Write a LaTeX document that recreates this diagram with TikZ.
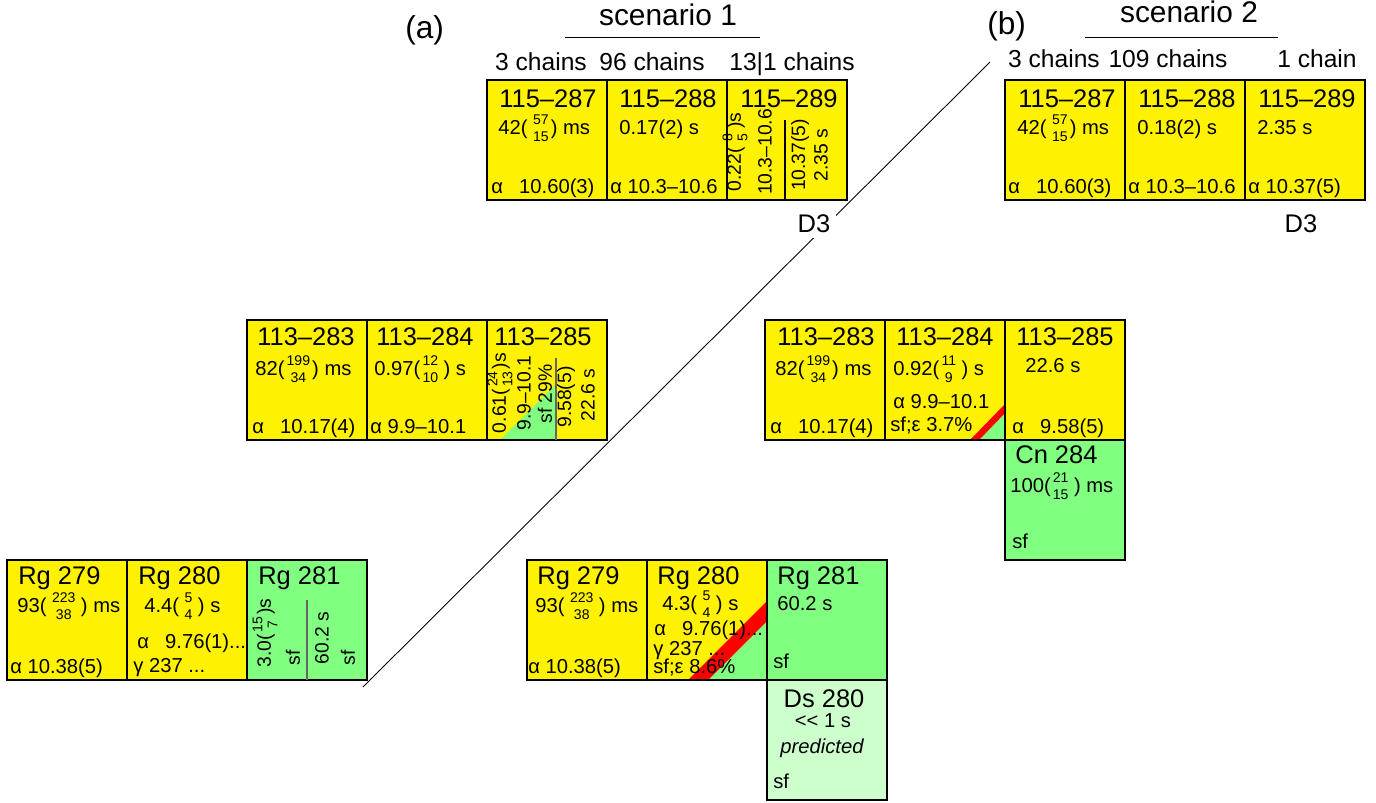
\documentclass[tikz,border=0pt]{standalone}
\usepackage{amsmath}
\usepackage{fontspec}
\setmainfont{Liberation Sans}
\usepackage{tikz}

\definecolor{sfgreen}{RGB}{128,255,128}
\definecolor{predgreen}{RGB}{204,255,204}
\newcommand{\ud}[2]{$\genfrac{}{}{0pt}{1}{\mbox{\fontsize{8}{9}\selectfont #1}}{\mbox{\fontsize{8}{9}\selectfont #2}}$}

\tikzset{
  cellbox/.style={draw=black, line width=0.8pt},
  splitline/.style={draw=black!60, line width=0.6pt},
  nuc/.style={anchor=base west, inner sep=0pt, font=\fontsize{14.5}{17}\selectfont},
  hl/.style={anchor=base west, inner sep=0pt, font=\fontsize{11.5}{13}\selectfont},
  vtext/.style={rotate=90, inner sep=0pt, font=\fontsize{11}{13}\selectfont},
  chains/.style={anchor=base, inner sep=0pt, font=\fontsize{14}{16}\selectfont},
}

\begin{document}
\begin{tikzpicture}[x=0.02cm, y=-0.02cm]
    \useasboundingbox (0,0) rectangle (1376,802);

    % separating line between the two scenarios
    \draw[line width=0.5pt] (363,687) -- (990,62);

    % headings
    \node[anchor=base west, inner sep=0pt, font=\fontsize{18}{20}\selectfont] (taga) at (405,38) {(a)};
    \node[anchor=base, inner sep=0pt, font=\fontsize{17}{19}\selectfont] (scen1) at (668,25) {scenario 1};
    \draw[line width=0.5pt] (565,37) -- (760,37);
    \node[chains] (ch287a) at (541,70) {3 chains};
    \node[chains] (ch288a) at (652,70) {96 chains};
    \node[chains] (ch289a) at (792,70) {13|1 chains};

    \node[anchor=base west, inner sep=0pt, font=\fontsize{18}{20}\selectfont] (tagb) at (987,34) {(b)};
    \node[anchor=base, inner sep=0pt, font=\fontsize{17}{19}\selectfont] (scen2) at (1189,22) {scenario 2};
    \draw[line width=0.5pt] (1085,37) -- (1278,37);
    \node[chains] (ch287b) at (1054,67) {3 chains};
    \node[chains] (ch288b) at (1168,67) {109 chains};
    \node[chains] (ch289b) at (1317,67) {1 chain};

    % ---- scenario 1, element 115
    \fill[yellow] (487,80) rectangle (847,200);
    \draw[cellbox] (487,80) rectangle (607,200);
    \draw[cellbox] (607,80) rectangle (727,200);
    \draw[cellbox] (727,80) rectangle (847,200);
    \node[nuc] (a287) at (499,107) {115–287};
    \node[hl] (a287t) at (498,134) {42(\,\ud{57}{15}) ms};
    \node[hl] (a287d) at (491,193) {α\hspace{0.8em}10.60(3)};
    \node[nuc] (a288) at (619,107) {115–288};
    \node[hl] (a288t) at (619,134) {0.17(2) s};
    \node[hl] (a288d) at (610,193) {α 10.3–10.6};
    \node[nuc] (a289) at (740,107) {115–289};
    \node[vtext] (a289t1) at (735,152) {0.22(\,\ud{8}{5}\,)s};
    \node[vtext] (a289d1) at (765,152) {10.3–10.6};
    \draw[line width=0.6pt] (785,120) -- (785,200);
    \node[vtext] (a289d2) at (800,155) {10.37(5)};
    \node[vtext] (a289t2) at (821,155) {2.35 s};
    \node[anchor=base, inner sep=3pt, fill=white, font=\fontsize{14.5}{17}\selectfont] (d3a) at (814,232) {D3};

    % ---- scenario 2, element 115
    \fill[yellow] (1005,80) rectangle (1365,200);
    \draw[cellbox] (1005,80) rectangle (1125,200);
    \draw[cellbox] (1125,80) rectangle (1245,200);
    \draw[cellbox] (1245,80) rectangle (1365,200);
    \node[nuc] (b287) at (1018,107) {115–287};
    \node[hl] (b287t) at (1017,134) {42(\,\ud{57}{15}) ms};
    \node[hl] (b287d) at (1008,193) {α\hspace{0.8em}10.60(3)};
    \node[nuc] (b288) at (1138,107) {115–288};
    \node[hl] (b288t) at (1137,134) {0.18(2) s};
    \node[hl] (b288d) at (1128,193) {α 10.3–10.6};
    \node[nuc] (b289) at (1258,107) {115–289};
    \node[hl] (b289t) at (1257,134) {2.35 s};
    \node[hl] (b289d) at (1248,193) {α 10.37(5)};
    \node[anchor=base, inner sep=1pt, font=\fontsize{14.5}{17}\selectfont] (d3b) at (1301,232) {D3};

    % ---- scenario 1, element 113
    \fill[yellow] (247,320) rectangle (607,440);
    \fill[sfgreen] (500,440) -- (556,440) -- (556,384) -- cycle;
    \draw[cellbox] (247,320) rectangle (367,440);
    \draw[cellbox] (367,320) rectangle (487,440);
    \draw[cellbox] (487,320) rectangle (607,440);
    \node[nuc] (a283) at (257,345) {113–283};
    \node[hl] (a283t) at (255,375) {82(\ud{199}{34}) ms};
    \node[hl] (a283d) at (252,433) {α\hspace{0.8em}10.17(4)};
    \node[nuc] (a284) at (376,345) {113–284};
    \node[hl] (a284t) at (374,375) {0.97(\ud{12}{10}\,) s};
    \node[hl] (a284d) at (370,433) {α 9.9–10.1};
    \node[nuc] (a285) at (494,345) {113–285};
    \node[vtext] (a285t1) at (500,393) {0.61(\ud{24}{13})s};
    \node[vtext] (a285d1) at (524,393) {9.9–10.1};
    \node[vtext] (a285sf) at (545,394) {sf 29\%};
    \draw[splitline] (556,358) -- (556,440);
    \node[vtext] (a285d2) at (566,397) {9.58(5)};
    \node[vtext] (a285t2) at (588,395) {22.6 s};

    % ---- scenario 2, element 113
    \fill[yellow] (765,320) rectangle (1125,440);
    \fill[sfgreen] (979,440) -- (1005,440) -- (1005,413) -- cycle;
    \fill[red] (970,440) -- (979,440) -- (1005,413) -- (1005,404) -- cycle;
    \draw[cellbox] (765,320) rectangle (885,440);
    \draw[cellbox] (885,320) rectangle (1005,440);
    \draw[cellbox] (1005,320) rectangle (1125,440);
    \node[nuc] (b283) at (777,345) {113–283};
    \node[hl] (b283t) at (775,375) {82(\ud{199}{34}) ms};
    \node[hl] (b283d) at (770,433) {α\hspace{0.8em}10.17(4)};
    \node[nuc] (b284) at (896,345) {113–284};
    \node[hl] (b284t) at (893,375) {0.92(\ud{11}{9}\,) s};
    \node[hl] (b284d1) at (893,408) {α 9.9–10.1};
    \node[hl] (b284d2) at (890,431) {sf;ε 3.7\%};
    \node[nuc] (b285) at (1016,345) {113–285};
    \node[hl] (b285t) at (1025,372) {22.6 s};
    \node[hl] (b285d) at (1012,433) {α\hspace{0.8em}9.58(5)};
    \draw[cellbox, fill=sfgreen] (1005,440) rectangle (1125,560);
    \node[nuc] (cn284) at (1015,463) {Cn 284};
    \node[hl] (cn284t) at (1010,492) {100(\ud{21}{15}\,) ms};
    \node[hl] (cn284d) at (1012,548) {sf};

    % ---- scenario 1, element 111
    \fill[yellow] (7,560) rectangle (247,680);
    \fill[sfgreen] (247,560) rectangle (367,680);
    \draw[cellbox] (7,560) rectangle (127,680);
    \draw[cellbox] (127,560) rectangle (247,680);
    \draw[cellbox] (247,560) rectangle (367,680);
    \node[nuc] (a279) at (18,584) {Rg 279};
    \node[hl] (a279t) at (17,612) {93(\,\ud{223}{38}\,) ms};
    \node[hl] (a279d) at (10,673) {α 10.38(5)};
    \node[nuc] (a280) at (138,584) {Rg 280};
    \node[hl] (a280t) at (144,612) {4.4(\,\ud{5}{4}\,) s};
    \node[hl] (a280d1) at (137,648) {α\hspace{0.8em}9.76(1)...};
    \node[hl] (a280d2) at (133,672) {γ 237 ...};
    \node[nuc] (a281) at (258,584) {Rg 281};
    \node[vtext] (a281t1) at (265,633) {3.0(\ud{15}{7})s};
    \node[vtext] (a281d1) at (293,658) {sf};
    \draw[splitline] (307,600) -- (307,680);
    \node[vtext] (a281t2) at (322,638) {60.2 s};
    \node[vtext] (a281d2) at (348,658) {sf};

    % ---- scenario 2, element 111
    \fill[yellow] (527,560) rectangle (767,680);
    \fill[sfgreen] (708,680) -- (767,680) -- (767,621) -- cycle;
    \fill[red] (688,680) -- (708,680) -- (767,621) -- (767,601) -- cycle;
    \fill[sfgreen] (767,560) rectangle (887,680);
    \draw[cellbox] (527,560) rectangle (647,680);
    \draw[cellbox] (647,560) rectangle (767,680);
    \draw[cellbox] (767,560) rectangle (887,680);
    \node[nuc] (b279) at (537,584) {Rg 279};
    \node[hl] (b279t) at (535,612) {93(\,\ud{223}{38}\,) ms};
    \node[hl] (b279d) at (528,673) {α 10.38(5)};
    \node[nuc] (b280) at (657,584) {Rg 280};
    \node[hl] (b280t) at (662,610) {4.3(\,\ud{5}{4}\,) s};
    \node[hl] (b280d1) at (654,635) {α\hspace{0.8em}9.76(1)...};
    \node[hl] (b280d2) at (653,655) {γ 237 ...};
    \node[hl] (b280d3) at (653,673) {sf;ε 8.6\%};
    \node[nuc] (b281) at (777,584) {Rg 281};
    \node[hl] (b281t) at (777,610) {60.2 s};
    \node[hl] (b281d) at (773,668) {sf};
    \draw[cellbox, fill=predgreen] (767,680) rectangle (887,800);
    \node[nuc, anchor=base] (ds280) at (824,707) {Ds 280};
    \node[hl, anchor=base] (ds280t) at (823,727) {{<}{<} 1 s};
    \node[hl, anchor=base, font=\fontsize{11.5}{13}\selectfont\itshape] (ds280p) at (822,753) {predicted};
    \node[hl] (ds280d) at (773,788) {sf};
\end{tikzpicture}
\end{document}
